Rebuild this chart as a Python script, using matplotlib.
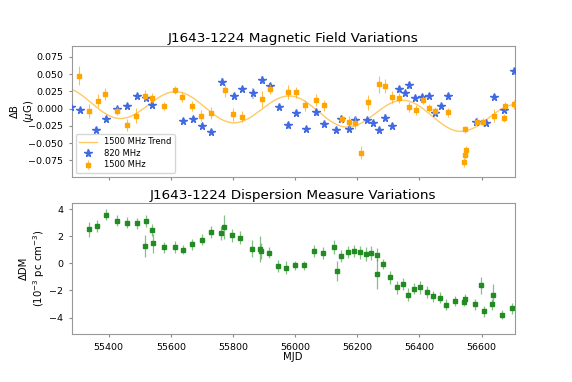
import numpy as np
import matplotlib
matplotlib.use("Agg")
import matplotlib.pyplot as plt

# 820 MHz magnetic field points
mjd_820 = [55279, 55307, 55360, 55392, 55428, 55460, 55491, 55519, 55540, 55638,
           55671, 55701, 55729, 55766, 55802, 55829, 55865, 55894, 55920, 55949,
           55976, 56003, 56036, 56068, 56093, 56130, 56149, 56174, 56192, 56232,
           56250, 56269, 56290, 56312, 56334, 56354, 56368, 56386, 56407, 56430,
           56449, 56470, 56493, 56583, 56613, 56639, 56673, 56704]
db_820 = [0.0024, -0.0024, -0.031, -0.015, -0.001, 0.0034, 0.0177, 0.016, 0.0057, -0.018,
          -0.015, -0.025, -0.034, 0.0388, 0.0187, 0.028, 0.022, 0.041, 0.0326, 0.0024,
          -0.024, -0.0067, -0.030, -0.0053, -0.023, -0.031, -0.0144, -0.029, -0.017, -0.017,
          -0.0206, -0.031, -0.013, -0.025, 0.028, 0.022, 0.034, 0.0153, 0.0168, 0.0187,
          -0.0062, 0.0034, 0.0177, -0.0187, -0.0206, 0.0168, -0.0014, 0.054]
err_820 = [0.004, 0.004, 0.005, 0.004, 0.004, 0.004, 0.004, 0.004, 0.005, 0.004,
           0.004, 0.004, 0.004, 0.005, 0.004, 0.004, 0.008, 0.006, 0.005, 0.004,
           0.005, 0.004, 0.004, 0.005, 0.004, 0.004, 0.004, 0.004, 0.005, 0.004,
           0.004, 0.004, 0.005, 0.004, 0.005, 0.004, 0.005, 0.004, 0.004, 0.004,
           0.004, 0.004, 0.005, 0.004, 0.004, 0.005, 0.004, 0.005]

# 1500 MHz magnetic field points
mjd_1500 = [55304, 55336, 55364, 55387, 55427, 55460, 55489, 55518, 55540, 55577,
            55614, 55637, 55667, 55697, 55728, 55774, 55800, 55828, 55893, 55919,
            55978, 56002, 56033, 56066, 56094, 56150, 56172, 56194, 56213, 56236,
            56269, 56290, 56312, 56333, 56368, 56390, 56411, 56432, 56451, 56492,
            56547, 56546, 56551, 56545, 56584, 56606, 56641, 56671, 56674, 56706]
db_1500 = [0.048, -0.0034, 0.0115, 0.0206, -0.0034, -0.0235, -0.010, 0.019, 0.0153, 0.0038,
           0.0268, 0.0168, 0.0038, -0.010, -0.0062, 0.0268, -0.0081, -0.0115, 0.0139, 0.029,
           0.0244, 0.0235, 0.0048, 0.012, 0.0048, -0.0148, -0.019, -0.0206, -0.064, 0.009,
           0.035, 0.033, 0.0168, 0.0153, 0.0029, -0.0024, 0.0125, 0.001, -0.0038, -0.0053,
           -0.030, -0.067, -0.060, -0.078, -0.0187, -0.019, -0.010, -0.0134, 0.0038, 0.006]
err_1500 = [0.0144, 0.0105, 0.0096, 0.0086, 0.006, 0.0086, 0.0105, 0.0077, 0.0072, 0.0058,
            0.0062, 0.0067, 0.0067, 0.0081, 0.0086, 0.0096, 0.0096, 0.0086, 0.012, 0.0072,
            0.0105, 0.0077, 0.0081, 0.0086, 0.0077, 0.0058, 0.0086, 0.0096, 0.0096, 0.0105,
            0.013, 0.0105, 0.0086, 0.0067, 0.0072, 0.0072, 0.0058, 0.0058, 0.0058, 0.0067,
            0.0048, 0.0058, 0.0058, 0.0067, 0.0067, 0.0058, 0.0096, 0.0058, 0.0058, 0.0067]

# annual trend fit parameters
trend_amp = 0.021
trend_period = 365.25
trend_peak = 55618
trend_offset = 0.002
trend_slope = -1.7e-5
trend_ref = 55710

# dispersion measure points
mjd_dm = [55337, 55361, 55391, 55428, 55460, 55491, 55519, 55518, 55540, 55541,
          55577, 55614, 55638, 55669, 55699, 55729, 55762, 55770, 55797, 55824,
          55860, 55888, 55890, 55915, 55945, 55972, 55998, 56030, 56062, 56090,
          56125, 56134, 56146, 56169, 56190, 56209, 56229, 56244, 56264, 56263,
          56284, 56305, 56328, 56347, 56362, 56382, 56403, 56425, 56443, 56466,
          56486, 56515, 56543, 56547, 56579, 56598, 56607, 56634, 56636, 56667, 56698]
dm = [2.52, 2.74, 3.58, 3.16, 2.99, 2.94, 3.11, 1.28, 2.47, 1.48,
      1.19, 1.23, 1.01, 1.41, 1.75, 2.32, 2.22, 2.69, 2.07, 1.90,
      1.09, 1.04, 0.89, 0.79, -0.17, -0.32, -0.15, -0.15, 0.89, 0.79,
      1.19, -0.54, 0.54, 0.86, 0.94, 0.81, 0.69, 0.77, 0.64, -0.79,
      -0.05, -1.04, -1.78, -1.51, -2.30, -1.88, -1.78, -2.12, -2.42, -2.52,
      -3.06, -2.79, -2.86, -2.62, -3.01, -1.63, -3.53, -3.01, -2.30, -3.78, -3.33]
dm_err = [0.55, 0.45, 0.4, 0.4, 0.4, 0.4, 0.45, 0.8, 0.45, 0.7,
          0.4, 0.45, 0.35, 0.4, 0.4, 0.45, 0.5, 0.9, 0.5, 0.5,
          0.65, 0.95, 0.6, 0.4, 0.45, 0.5, 0.35, 0.35, 0.45, 0.45,
          0.5, 0.75, 0.45, 0.45, 0.45, 0.5, 0.5, 0.5, 0.5, 1.1,
          0.4, 0.45, 0.5, 0.45, 0.45, 0.4, 0.45, 0.45, 0.4, 0.4,
          0.4, 0.35, 0.3, 0.35, 0.4, 0.65, 0.4, 0.4, 0.75, 0.35, 0.4]

fig, (ax1, ax2) = plt.subplots(2, 1, figsize=(5.72, 3.82), dpi=100)
fig.subplots_adjust(left=0.125, right=0.9, top=0.88, bottom=0.125, hspace=0.2)

t = np.linspace(55280, 56707, 600)
trend = (trend_amp * np.cos(2 * np.pi * (t - trend_peak) / trend_period)
         + trend_offset + trend_slope * (t - trend_ref))
ax1.plot(t, trend, color='orange', alpha=0.6, lw=1, label='1500 MHz Trend')
eb820 = ax1.errorbar(mjd_820, db_820, yerr=err_820, fmt='*', color='royalblue', ms=5.5,
                     ecolor='royalblue', elinewidth=1.5, label='820 MHz', zorder=3)
eb1500 = ax1.errorbar(mjd_1500, db_1500, yerr=err_1500, fmt='s', color='orange', ms=2.2,
                      ecolor='orange', elinewidth=0.8, label='1500 MHz', zorder=4)
# lighter error bars
eb820[2][0].set_alpha(0.35)
eb1500[2][0].set_alpha(0.7)

ax1.set_xlim(55280, 56707)
ax1.set_ylim(-0.099, 0.091)
ax1.set_yticks([-0.075, -0.05, -0.025, 0, 0.025, 0.05, 0.075])
ax1.set_xticks([55400, 55600, 55800, 56000, 56200, 56400, 56600])
ax1.set_xticklabels([])
ax1.set_title('J1643-1224 Magnetic Field Variations', fontsize=9.7, pad=3)
ax1.set_ylabel('ΔB\n($\\mu$G)', fontsize=7.3)
ax1.yaxis.set_label_coords(-0.081, 0.5)
ax1.legend(loc='lower left', fontsize=6, handlelength=2.2, borderpad=0.4,
           labelspacing=0.3)

ebdm = ax2.errorbar(mjd_dm, dm, yerr=dm_err, fmt='s', color='forestgreen', ms=2.2,
                    ecolor='forestgreen', elinewidth=0.9)
ebdm[2][0].set_alpha(0.55)
ax2.set_xlim(55280, 56707)
ax2.set_ylim(-5.23, 4.44)
ax2.set_yticks([-4, -2, 0, 2, 4])
ax2.set_xticks([55400, 55600, 55800, 56000, 56200, 56400, 56600])
ax2.set_title('J1643-1224 Dispersion Measure Variations', fontsize=9.7, pad=3)
ax2.set_ylabel('ΔDM\n($10^{-3}$ pc cm$^{-3}$)', fontsize=7.3, labelpad=1.5)
ax2.set_xlabel('MJD', fontsize=7.3, labelpad=0)

for ax in (ax1, ax2):
    ax.tick_params(labelsize=6.8, length=2.5, color='#888888')
    for sp in ax.spines.values():
        sp.set_color('#999999')

fig.savefig('out.png', dpi=100)
